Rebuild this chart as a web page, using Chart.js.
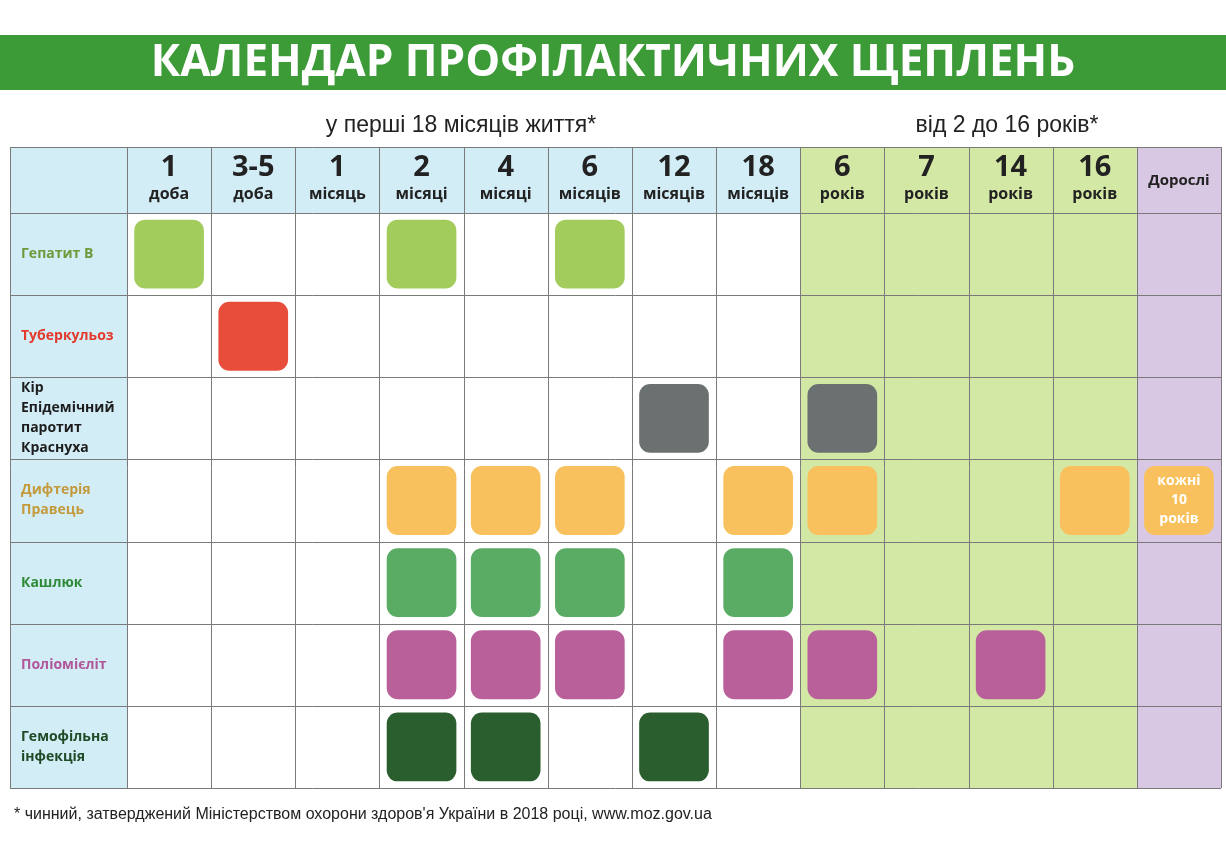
<!DOCTYPE html>
<html><head><meta charset="utf-8">
<script src="https://cdn.jsdelivr.net/npm/chart.js@4"></script>
<style>html,body{margin:0;padding:0;background:#fff}#wrap{width:1226px;height:866px}</style>
</head><body><div id="wrap"><canvas id="canvas"></canvas></div>
<script>
// columns of the calendar (big number, small word)
const colTop = ["1","3-5","1","2","4","6","12","18","6","7","14","16",""];
const colSub = ["доба","доба","місяць","місяці","місяці","місяців","місяців","місяців","років","років","років","років","Дорослі"];
const rowNames = [["Гепатит В"],["Туберкульоз"],["Кір","Епідемічний","паротит","Краснуха"],["Дифтерія","Правець"],["Кашлюк"],["Поліомієліт"],["Гемофільна","інфекція"]];
const rowColors = ["#6e9a3c","#e2392b","#1d1d1d","#c39a3c","#2f8a38","#b0579a","#1e4a26"];
const tileColors = ["#a2cc5b","#e84c3b","#6b7170","#f9c15d","#5aab63","#b9609a","#2b5e2f"];
// which columns get a shot, per row
const hepB = [0,3,5];
const tb = [1];
const mmr = [6,8];
const dtp = [3,4,5,7,8,11,12];
const pertussis = [3,4,5,7];
const polio = [3,4,5,7,8,10];
const hib = [3,4,6];
const shots = [hepB,tb,mmr,dtp,pertussis,polio,hib];

const datasets = shots.map((cols,r) => ({
  data: cols.map(c => ({x: c+0.5, y: [r+0.085, r+0.915]})),
  backgroundColor: tileColors[r],
  borderRadius: 11, borderSkipped: false,
  barThickness: 69, grouped: false
}));

const page = {
  id: 'page',
  beforeDraw(chart){
    const {ctx, chartArea:a, scales:{x,y}} = chart;
    ctx.save();
    ctx.fillStyle = '#fff'; ctx.fillRect(0,0,chart.width,chart.height);
    ctx.fillStyle = '#3c9a37'; ctx.fillRect(0,35,chart.width,55);
    ctx.fillStyle = '#fff'; ctx.font = 'bold 44px "Open Sans"'; ctx.textAlign='center'; ctx.textBaseline='middle';
    ctx.fillText('КАЛЕНДАР ПРОФІЛАКТИЧНИХ ЩЕПЛЕНЬ', 613, 63);
    ctx.fillStyle = '#222'; ctx.font = '23px "Liberation Sans"';
    ctx.fillText('у перші 18 місяців життя*', 461, 126);
    ctx.fillText('від 2 до 16 років*', 1007, 126);
    ctx.font = '16px "Liberation Sans"'; ctx.textAlign='left';
    ctx.fillText('* чинний, затверджений Міністерством охорони здоров\'я України в 2018 році, www.moz.gov.ua', 14, 815);
    const top = 147, left = 10;
    ctx.fillStyle = '#d3edf7';
    ctx.fillRect(left, top, a.left-left, a.bottom-top);
    ctx.fillRect(a.left, top, x.getPixelForValue(8)-a.left, a.top-top);
    ctx.fillStyle = '#d4e8a6';
    ctx.fillRect(x.getPixelForValue(8), top, x.getPixelForValue(12)-x.getPixelForValue(8), a.bottom-top);
    ctx.fillStyle = '#d8c8e4';
    ctx.fillRect(x.getPixelForValue(12), top, a.right-x.getPixelForValue(12), a.bottom-top);
    ctx.strokeStyle = '#7a7a7a'; ctx.lineWidth = 1;
    ctx.beginPath();
    for (let c=0;c<=13;c++){ const px=Math.round(x.getPixelForValue(c))+0.5; ctx.moveTo(px,top); ctx.lineTo(px,a.bottom); }
    ctx.moveTo(left+0.5,top); ctx.lineTo(left+0.5,a.bottom);
    ctx.moveTo(left,top+0.5); ctx.lineTo(a.right,top+0.5);
    for (let r=0;r<=7;r++){ const py=Math.round(y.getPixelForValue(r))+0.5; ctx.moveTo(left,py); ctx.lineTo(a.right,py); }
    ctx.stroke();
    ctx.restore();
  },
  afterDatasetsDraw(chart){
    const {ctx, scales:{x,y}} = chart;
    ctx.save();
    ctx.textAlign='center'; ctx.textBaseline='middle'; ctx.fillStyle='#222';
    colTop.forEach((t,c) => {
      const cx = x.getPixelForValue(c+0.5);
      if (t) {
        ctx.font = 'bold 29px "Open Sans"'; ctx.fillText(t, cx, 168);
        ctx.font = 'bold 16px "Open Sans"'; ctx.fillText(colSub[c], cx, 194);
      } else {
        ctx.font = 'bold 15px "Open Sans"'; ctx.fillText(colSub[c], cx, 181);
      }
    });
    ctx.textAlign='left';
    ctx.font = 'bold 14px "Open Sans"';
    rowNames.forEach((lines,r) => {
      const cy = y.getPixelForValue(r+0.5), lh = 20;
      ctx.fillStyle = rowColors[r];
      lines.forEach((l,i) => ctx.fillText(l, 21, cy + (i-(lines.length-1)/2)*lh));
    });
    ctx.textAlign='center'; ctx.fillStyle='#fff'; ctx.font='bold 14px "Open Sans"';
    const ax = x.getPixelForValue(12.5), ay = y.getPixelForValue(3.5);
    ['кожні','10','років'].forEach((l,i)=>ctx.fillText(l, ax, ay+(i-1)*19));
    ctx.restore();
  }
};

new Chart(document.getElementById('canvas'), {
  type: 'bar',
  data: { datasets },
  options: {
    responsive: true, maintainAspectRatio: false, animation: false,
    layout: { padding: { left: 127, top: 213, right: 5, bottom: 78 } },
    plugins: { legend: { display: false }, tooltip: { enabled: false } },
    scales: {
      x: { type: 'linear', min: 0, max: 13, offset: false, display: false },
      y: { type: 'linear', min: 0, max: 7, reverse: true, offset: false, display: false }
    }
  },
  plugins: [page]
});
</script>
</body></html>
